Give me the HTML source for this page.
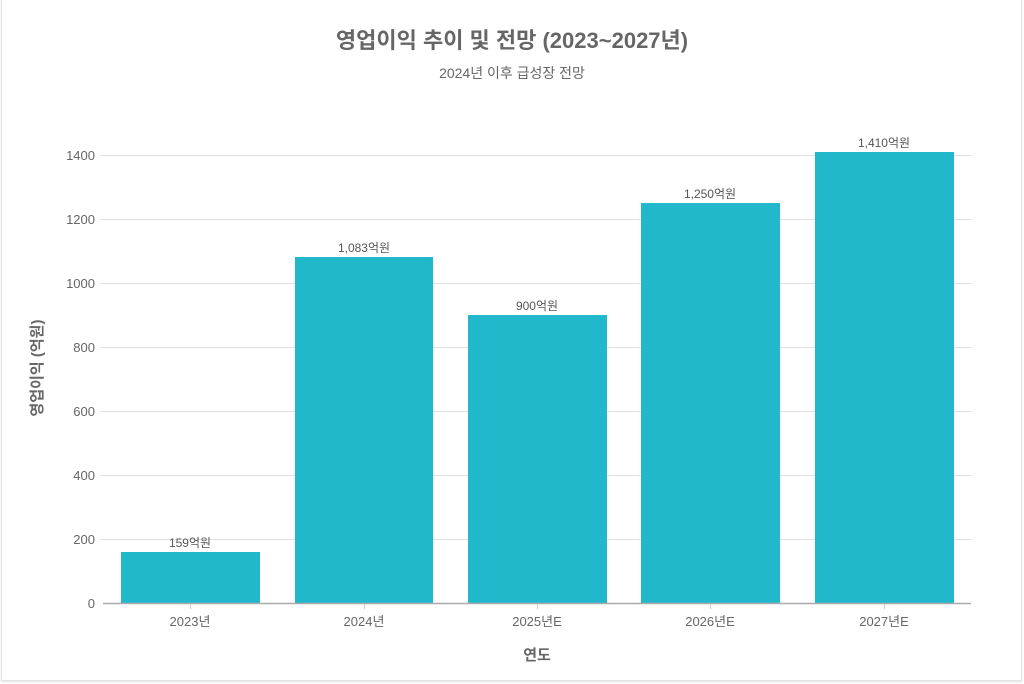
<!DOCTYPE html>
<html><head><meta charset="utf-8"><style>
body{margin:0;background:#fff;}
.card{position:absolute;left:1px;top:-2px;width:1019px;height:682px;border:1px solid #e4e4e4;border-top:none;box-shadow:0 1px 2px rgba(0,0,0,0.12);background:#fff;}
</style></head><body>
<div class="card"></div>
<svg width="1024" height="684" style="position:absolute;left:0;top:0" font-family="'Liberation Sans','Noto Sans CJK KR',sans-serif">
<text x="512" y="48" text-anchor="middle" font-size="22" font-weight="bold" fill="#666">영업이익 추이 및 전망 (2023~2027년)</text>
<text x="512" y="78" text-anchor="middle" font-size="14" fill="#666">2024년 이후 급성장 전망</text>
<g stroke="#e0e0e0" stroke-width="1">
<line x1="100" x2="971" y1="155.5" y2="155.5"/>
<line x1="100" x2="971" y1="219.5" y2="219.5"/>
<line x1="100" x2="971" y1="283.5" y2="283.5"/>
<line x1="100" x2="971" y1="347.5" y2="347.5"/>
<line x1="100" x2="971" y1="411.5" y2="411.5"/>
<line x1="100" x2="971" y1="475.5" y2="475.5"/>
<line x1="100" x2="971" y1="539.5" y2="539.5"/>
</g>
<g font-size="13" fill="#666" text-anchor="end">
<text x="95" y="160">1400</text><text x="95" y="224">1200</text><text x="95" y="288">1000</text>
<text x="95" y="352">800</text><text x="95" y="416">600</text><text x="95" y="480">400</text>
<text x="95" y="544">200</text><text x="95" y="608">0</text>
</g>
<g fill="#21b8cc">
<rect x="121" y="552" width="139" height="51"/>
<rect x="295" y="257" width="138" height="346"/>
<rect x="468" y="315" width="139" height="288"/>
<rect x="641" y="203" width="139" height="400"/>
<rect x="815" y="152" width="139" height="451"/>
</g>
<line x1="103" x2="971" y1="603.5" y2="603.5" stroke="#aaa" stroke-width="1.5"/>
<g stroke="#ccc"><line x1="190.5" x2="190.5" y1="604" y2="609"/><line x1="364.5" x2="364.5" y1="604" y2="609"/><line x1="537.5" x2="537.5" y1="604" y2="609"/><line x1="710.5" x2="710.5" y1="604" y2="609"/><line x1="884.5" x2="884.5" y1="604" y2="609"/></g>
<g font-size="12" fill="#555" text-anchor="middle">
<text x="190" y="547">159억원</text><text x="364" y="252">1,083억원</text><text x="537" y="310">900억원</text>
<text x="710" y="198">1,250억원</text><text x="884" y="147">1,410억원</text>
</g>
<g font-size="13" fill="#666" text-anchor="middle">
<text x="190" y="626">2023년</text><text x="364" y="626">2024년</text><text x="537" y="626">2025년E</text>
<text x="710" y="626">2026년E</text><text x="884" y="626">2027년E</text>
</g>
<text x="537" y="660" text-anchor="middle" font-size="15" font-weight="bold" fill="#666">연도</text>
<text transform="translate(42,368) rotate(-90)" text-anchor="middle" font-size="15" font-weight="bold" fill="#666">영업이익 (억원)</text>
</svg>
</body></html>
